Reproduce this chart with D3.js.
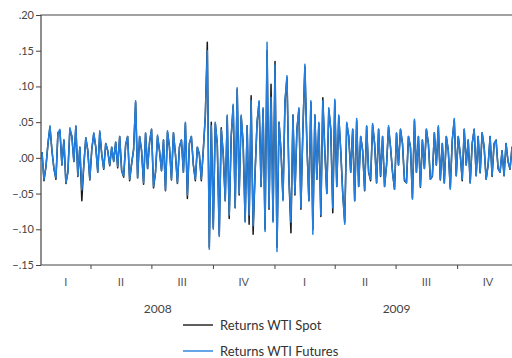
<!DOCTYPE html>
<html>
<head>
<meta charset="utf-8">
<script src="https://cdn.jsdelivr.net/npm/d3@7"></script>
<style>
  html, body { margin: 0; padding: 0; background: #fff; }
  svg { display: block; font-family: Lato, "Noto Sans", sans-serif; }
</style>
</head>
<body>
<svg id="chart" width="512" height="358"></svg>
<script>
// daily-ish returns (Jan 2008 - Dec 2009)
const futures = [
  .008, -.030, -.012, .020, .045, .010, -.015, -.028, .035, .040,
  -.010, .025, -.035, -.020, .042, .030, -.005, .045, -.025, .015,
  -.045, -.010, .028, .010, -.030, .012, .035, .015, -.020, .038,
  .005, -.015, .020, .010, -.010, .015, -.005, .022, -.012, .030,
  -.018, -.025, .018, .030, -.030, -.008, .012, .080, -.028, .030,
  .010, -.035, .035, -.015, .022, .040, -.040, -.020, .032, .010,
  -.018, .025, -.045, .038, .015, -.030, .035, .005, -.035, .015,
  .025, -.020, .050, -.052, .020, .030, -.010, -.030, .015, .005,
  -.030, .010, .060, .150, -.128, .045, -.100, .050, .020, -.110,
  .040, .005, -.060, .060, -.080, .030, .075, -.070, .098, -.050,
  .060, .020, -.090, .045, -.080, .080, -.095, -.020, .050, .080,
  -.040, .070, -.103, .162, -.070, .085, -.090, .130, -.131, .050,
  .010, -.060, .080, .115, -.030, -.090, .060, -.050, .040, .070,
  -.070, .040, .131, .020, -.060, .080, -.107, .060, -.030, .050,
  -.080, .080, .010, -.050, .070, .040, -.070, .082, -.040, .060,
  .010, -.050, -.093, .050, .030, -.020, .040, -.060, .055, -.040,
  .030, .010, -.045, .045, -.020, -.030, .048, .020, -.035, .040,
  -.025, .030, -.040, -.010, .045, .015, -.020, -.044, .035, -.010,
  .040, .020, -.030, -.035, .030, .015, -.058, .054, -.020, .030,
  -.040, .025, -.015, .040, .020, -.030, -.025, .035, -.010, .045,
  -.030, .020, -.035, .030, .010, -.044, .025, .055, -.025, .030,
  .005, -.030, .040, -.010, .025, -.035, .020, .040, -.025, .030,
  -.020, .035, .015, -.030, -.010, .030, -.025, .020, .025, -.015,
  -.020, .010, -.025, .020, -.005, -.015, .015, -.010, .025, .010
];
const spot = [
  .008, -.032, -.012, .020, .043, .010, -.015, -.030, .035, .038,
  -.010, .025, -.036, -.020, .040, .030, -.005, .044, -.026, .015,
  -.060, -.010, .028, .010, -.031, .012, .034, .015, -.020, .036,
  .005, -.016, .020, .010, -.011, .015, -.005, .022, -.014, .030,
  -.018, -.027, .018, .030, -.032, -.008, .012, .078, -.028, .030,
  .010, -.037, .034, -.015, .022, .040, -.042, -.020, .030, .010,
  -.018, .025, -.046, .036, .015, -.031, .035, .005, -.036, .015,
  .025, -.020, .048, -.057, .020, .030, -.010, -.032, .015, .005,
  -.032, .012, .058, .162, -.125, .050, -.098, .048, .020, -.108,
  .042, .005, -.060, .058, -.085, .030, .073, -.070, .096, -.052,
  .058, .020, -.088, .045, -.093, .087, -.107, -.020, .050, .078,
  -.040, .068, -.100, .150, -.072, .103, -.088, .135, -.125, .050,
  .010, -.058, .078, .112, -.030, -.105, .060, -.052, .040, .068,
  -.072, .040, .128, .020, -.060, .078, -.100, .060, -.030, .048,
  -.082, .084, .010, -.050, .068, .040, -.077, .080, -.040, .058,
  .010, -.050, -.090, .048, .030, -.020, .040, -.060, .052, -.040,
  .030, .010, -.046, .044, -.020, -.032, .046, .020, -.035, .040,
  -.026, .030, -.040, -.010, .043, .015, -.020, -.044, .034, -.010,
  .040, .020, -.032, -.035, .030, .015, -.056, .052, -.020, .030,
  -.041, .025, -.015, .040, .020, -.030, -.026, .035, -.010, .043,
  -.031, .020, -.035, .030, .010, -.042, .025, .053, -.025, .030,
  .005, -.032, .040, -.010, .025, -.035, .020, .040, -.025, .030,
  -.021, .035, .015, -.030, -.010, .030, -.026, .020, .025, -.015,
  -.020, .010, -.025, .020, -.005, -.016, .015, -.010, .024, .010
];
const yTicks = [.20, .15, .10, .05, 0, -.05, -.10, -.15];
const quarterNames = ['I', 'II', 'III', 'IV'];
const years = [2008, 2009];
const seriesNames = ['Returns WTI Spot', 'Returns WTI Futures'];
const seriesColors = ['#1a1a1a', '#2380e0'];

const margin = { left: 41, top: 15, right: 518, bottom: 265 };
const svg = d3.select('#chart');

const start = new Date(2008, 0, 18), end = new Date(2009, 11, 31);
const xTime = d3.scaleTime().domain([start, end]).range([margin.left, margin.right]);
const xIdx = d3.scaleLinear().domain([0, futures.length - 1]).range([margin.left + 1, margin.right]);
const y = d3.scaleLinear().domain([-.15, .20]).range([margin.bottom, margin.top]);

svg.append('clipPath').attr('id', 'plotclip')
  .append('rect')
  .attr('x', margin.left).attr('y', margin.top)
  .attr('width', margin.right - margin.left).attr('height', margin.bottom - margin.top);

const line = d3.line()
  .x((d, i) => xIdx(i))
  .y(d => y(d));

const plot = svg.append('g').attr('clip-path', 'url(#plotclip)');
[spot, futures].forEach((s, k) => {
  plot.append('path')
    .datum(s)
    .attr('d', line)
    .attr('fill', 'none')
    .attr('stroke', seriesColors[k])
    .attr('stroke-width', 1.5)
    .attr('stroke-linejoin', 'round');
});

// frame
svg.append('path')
  .attr('d', `M${margin.right},${margin.top}H${margin.left}V${margin.bottom}H${margin.right}`)
  .attr('fill', 'none')
  .attr('stroke', '#444')
  .attr('stroke-width', 1.2);

// y axis
const fmt = v => d3.format('.2f')(v).replace('0.', '.');
const yAxis = svg.append('g')
  .attr('transform', `translate(${margin.left},0)`)
  .call(d3.axisLeft(y).tickValues(yTicks).tickFormat(fmt).tickSize(5).tickPadding(2));
yAxis.select('.domain').remove();
yAxis.selectAll('line').attr('stroke', '#444');
yAxis.selectAll('text').attr('fill', '#444').style('font-size', '11px').style('font-family', 'Lato, sans-serif');

// quarter ticks
const qStarts = d3.timeMonth.every(3).range(new Date(2008, 3, 1), end);
const xAxis = svg.append('g')
  .attr('transform', `translate(0,${margin.bottom})`)
  .call(d3.axisBottom(xTime).tickValues(qStarts).tickFormat('').tickSize(4));
xAxis.select('.domain').remove();
xAxis.selectAll('line').attr('stroke', '#444');

// quarter labels in the middle of each quarter
const quarters = d3.timeMonth.every(3).range(new Date(2008, 0, 1), new Date(2010, 0, 1));
svg.append('g').selectAll('text')
  .data(quarters)
  .enter().append('text')
  .attr('x', d => {
    const a = Math.max(xTime(d), margin.left);
    const b = xTime(d3.timeMonth.offset(d, 3));
    return (a + b) / 2;
  })
  .attr('y', 286)
  .attr('text-anchor', 'middle')
  .attr('fill', '#555')
  .style('font-size', '11px')
  .text(d => quarterNames[Math.floor(d.getMonth() / 3)]);

svg.append('g').selectAll('text')
  .data(years)
  .enter().append('text')
  .attr('x', d => (Math.max(xTime(new Date(d, 0, 1)), margin.left) + xTime(new Date(d + 1, 0, 1))) / 2)
  .attr('y', 313)
  .attr('text-anchor', 'middle')
  .attr('fill', '#444')
  .style('font-size', '12px')
  .text(d => d);

// legend
const legend = svg.append('g').selectAll('g')
  .data(seriesNames)
  .enter().append('g')
  .attr('transform', (d, i) => `translate(183,${325 + i * 26})`);
legend.append('line')
  .attr('x1', 0).attr('x2', 30)
  .attr('stroke', (d, i) => seriesColors[i])
  .attr('stroke-width', 1.4);
legend.append('text')
  .attr('x', 37).attr('y', 4.5)
  .attr('fill', '#333')
  .style('font-size', '13px')
  .text(d => d);
</script>
</body>
</html>
